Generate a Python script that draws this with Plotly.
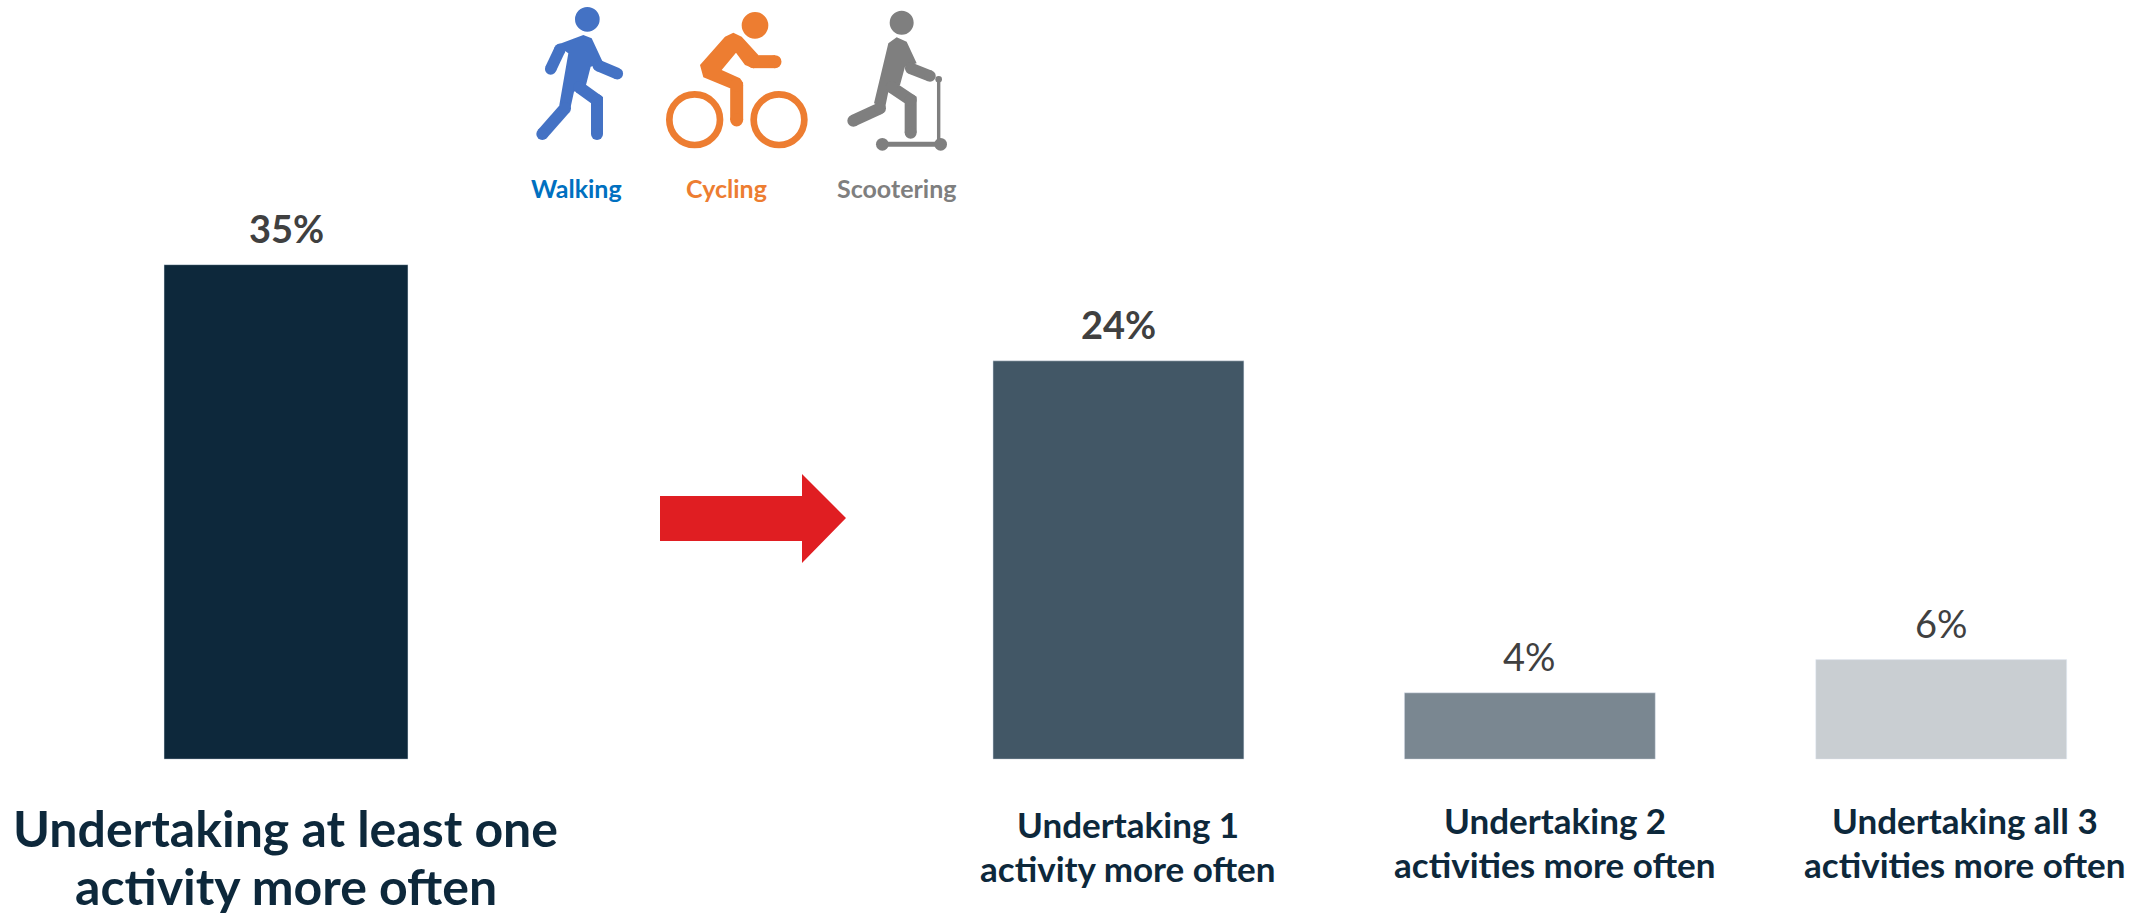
import plotly.graph_objects as go

W, H = 2142, 915
FONT = "Lato"

# --- data ---
left_category = ["Undertaking at least one activity more often"]
left_values = [35]
right_categories = ["Undertaking 1 activity more often",
                    "Undertaking 2 activities more often",
                    "Undertaking all 3 activities more often"]
right_values = [24, 4, 6]
left_color = ["#0D283B"]
right_colors = ["#425766", "#7A8791", "#C9CED2"]
legend_names = ["Walking", "Cycling", "Scootering"]
legend_colors = ["#0070C0", "#ED7D31", "#7F7F7F"]


def px(x):
    return x / W


def py(y):
    return 1 - y / H


fig = go.Figure()
fig.add_trace(go.Bar(x=left_category, y=left_values, marker_color=left_color, width=0.61,
                     xaxis="x", yaxis="y", hoverinfo="skip", showlegend=False))
fig.add_trace(go.Bar(x=right_categories, y=right_values, marker_color=right_colors, width=0.61,
                     xaxis="x2", yaxis="y2", hoverinfo="skip", showlegend=False))

hidden = dict(visible=False, fixedrange=True)
BASE = 759.2
fig.update_layout(
    width=W, height=H, margin=dict(l=0, r=0, t=0, b=0), autosize=False,
    paper_bgcolor="white", plot_bgcolor="white", showlegend=False,
    font=dict(family=FONT),
    xaxis=dict(domain=[px(86), px(486)], range=[-0.5, 0.5], anchor="y", type="category", **hidden),
    yaxis=dict(domain=[py(BASE), py(BASE - 40 * 14.13)], range=[0, 40], anchor="x", **hidden),
    xaxis2=dict(domain=[px(912.75), px(2142)], range=[-0.5, 2.488], anchor="y2", type="category", **hidden),
    yaxis2=dict(domain=[py(BASE), py(BASE - 30 * 16.6)], range=[0, 30], anchor="x2", **hidden),
)

ann = []


def value_label(xref, yref, x, v, bold, size):
    ann.append(dict(x=x, y=v, xref=xref, yref=yref, yshift=37, yanchor="middle", xanchor="center",
                    showarrow=False, text=f"<b>{v}%</b>" if bold else f"{v}%",
                    font=dict(family=FONT, size=size, color="#404040")))


value_label("x", "y", left_category[0], left_values[0], True, 38)
for c, v, b in zip(right_categories, right_values, [True, False, False]):
    value_label("x2", "y2", c, v, b, 38)


def text_at(x, y, s, size, color, bold=True):
    ann.append(dict(x=px(x), y=py(y), xref="paper", yref="paper", xanchor="center", yanchor="middle",
                    showarrow=False, text=f"<b>{s}</b>" if bold else s,
                    font=dict(family=FONT, size=size, color=color)))


NAVY = "#0D283B"
text_at(285.5, 828, "Undertaking at least one", 50, NAVY)
text_at(285.5, 886, "activity more often", 50, NAVY)
text_at(1128, 824, "Undertaking 1", 35, NAVY)
text_at(1128, 868, "activity more often", 35, NAVY)
text_at(1555, 820, "Undertaking 2", 35, NAVY)
text_at(1555, 864, "activities more often", 35, NAVY)
text_at(1965, 820, "Undertaking all 3", 35, NAVY)
text_at(1965, 864, "activities more often", 35, NAVY)
for name, col, cx in zip(legend_names, legend_colors, [576.7, 726.7, 896.7]):
    text_at(cx, 188, name, 25, col)

fig.update_layout(annotations=ann)

# --- pictograms and arrow (decoration drawn in page pixels) ---
shapes = []


def poly(points, color):
    d = "M " + " L ".join(f"{px(x)} {py(y)}" for x, y in points) + " Z"
    shapes.append(dict(type="path", path=d, xref="paper", yref="paper",
                       fillcolor=color, line=dict(width=0)))


def disc(cx, cy, r, color):
    shapes.append(dict(type="circle", xref="paper", yref="paper",
                       x0=px(cx - r), x1=px(cx + r), y0=py(cy + r), y1=py(cy - r),
                       fillcolor=color, line=dict(width=0)))


def ring(cx, cy, r, w, color):
    shapes.append(dict(type="circle", xref="paper", yref="paper",
                       x0=px(cx - r), x1=px(cx + r), y0=py(cy + r), y1=py(cy - r),
                       fillcolor="rgba(0,0,0,0)", line=dict(width=w, color=color)))


def z(p):
    return (500 + p[0] / 3, p[1] / 3)


def stroke(points, w, color):
    pts = [z(p) for p in points]
    d = "M " + " L ".join(f"{px(x)} {py(y)}" for x, y in pts)
    shapes.append(dict(type="path", path=d, xref="paper", yref="paper",
                       fillcolor="rgba(0,0,0,0)", line=dict(width=w, color=color)))
    for x, y in pts:
        disc(x, y, w / 2, color)


def zdisc(p, r, color):
    x, y = z(p)
    disc(x, y, r / 3, color)


# walker
B = "#4472C4"
zdisc((262, 58), 37, B)
poly([z(p) for p in [(170, 135), (250, 105), (275, 115), (310, 190), (272, 200), (258, 255),
                     (222, 275), (210, 330), (178, 315), (205, 160)]], B)
stroke([(152, 207), (180, 148)], 11.5, B)
stroke([(295, 197), (352, 221)], 11.5, B)
stroke([(195, 325), (127, 402)], 12, B)
stroke([(238, 262), (291, 300), (291, 402)], 12, B)

# cyclist
O = "#ED7D31"
zdisc((765, 76), 40, O)
poly([z(p) for p in [(600, 195), (675, 110), (700, 98), (725, 110), (775, 165), (760, 205),
                     (735, 195), (708, 158), (665, 210), (720, 235), (730, 250), (690, 265),
                     (610, 232)]], O)
stroke([(710, 255), (710, 360)], 13, O)
stroke([(760, 185), (825, 185)], 13, O)
ring(500 + 584 / 3, 359 / 3, 76 / 3, 6.7, O)
ring(500 + 837 / 3, 359 / 3, 76 / 3, 6.7, O)

# scooter rider
G = "#7F7F7F"
zdisc((1205, 68), 36, G)
poly([z(p) for p in [(1165, 130), (1190, 112), (1220, 125), (1250, 190), (1215, 200), (1200, 255),
                     (1165, 275), (1155, 325), (1122, 310)]], G)
stroke([(1232, 205), (1290, 228)], 11.5, G)
stroke([(1140, 325), (1060, 362)], 12, G)
stroke([(1175, 262), (1232, 300), (1232, 398)], 12, G)
stroke([(1316, 238), (1316, 430)], 3.4, G)
stroke([(1147, 433), (1322, 433)], 5, G)
zdisc((1316, 238), 10, G)
zdisc((1147, 433), 19, G)
zdisc((1322, 433), 19, G)

# arrow
poly([(660, 496), (802, 496), (802, 474), (846, 518), (802, 563), (802, 541), (660, 541)], "#E01E22")

fig.update_layout(shapes=shapes)

fig.write_html("out.html", config=dict(displayModeBar=False),
               post_script="document.body.style.margin='0';document.body.style.overflow='hidden';")
